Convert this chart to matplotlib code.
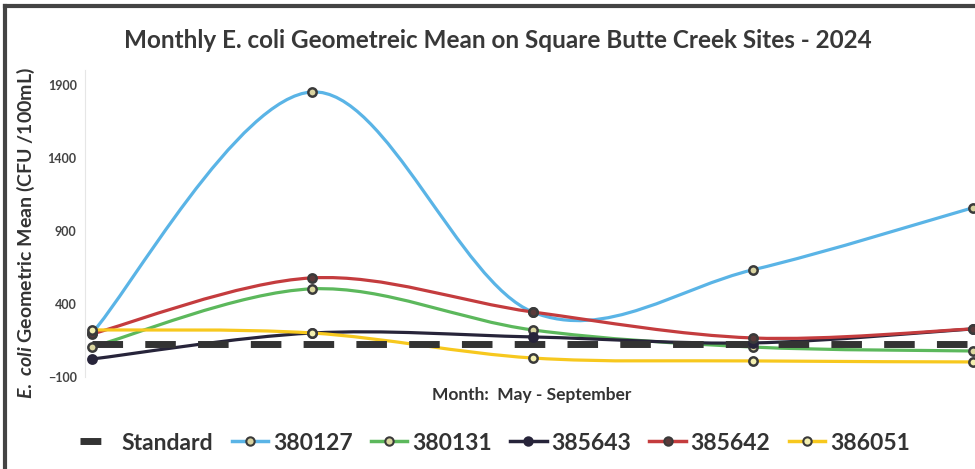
import numpy as np
import matplotlib
matplotlib.use("Agg")
import matplotlib.pyplot as plt
from matplotlib.path import Path
from matplotlib.patches import PathPatch
from matplotlib.lines import Line2D

# data (May - September 2024)
months = ["May", "June", "July", "August", "September"]
standard = [126, 126, 126, 126, 126]
s380127 = [201, 1850, 345, 633, 1058]
s380131 = [105, 503, 222, 105, 78]
s385643 = [23, 201, 174, 133, 229]
s385642 = [195, 578, 345, 167, 229]
s386051 = [222, 201, 30, 10, 3]

series = [
    ("380127", s380127, "#5ab4e6", "#d9d3a0", "#3a3a3a"),
    ("380131", s380131, "#5cb85c", "#dcd8a0", "#3a3a3a"),
    ("385643", s385643, "#27243a", "#27243a", "#27243a"),
    ("385642", s385642, "#c43c3e", "#5a3a3a", "#3a3a3a"),
    ("386051", s386051, "#f7c81e", "#f3efb0", "#3a3a3a"),
]

plt.rcParams["font.family"] = ["Lato", "DejaVu Sans"]
plt.rcParams["mathtext.fontset"] = "custom"
plt.rcParams["mathtext.it"] = "Lato:italic:bold"
plt.rcParams["mathtext.rm"] = "Lato:bold"


def smooth_path(xs, ys):
    # excel-style smoothed line: cubic bezier through every point
    pts = list(zip(xs, ys))
    verts = [pts[0]]
    codes = [Path.MOVETO]
    n = len(pts)
    for i in range(n - 1):
        p0 = pts[max(i - 1, 0)]
        p1 = pts[i]
        p2 = pts[i + 1]
        p3 = pts[min(i + 2, n - 1)]
        c1 = (p1[0] + (p2[0] - p0[0]) / 6, p1[1] + (p2[1] - p0[1]) / 6)
        c2 = (p2[0] - (p3[0] - p1[0]) / 6, p2[1] - (p3[1] - p1[1]) / 6)
        verts += [c1, c2, p2]
        codes += [Path.CURVE4] * 3
    return Path(verts, codes)


fig = plt.figure(figsize=(9.75, 4.69), dpi=100)
ax = fig.add_axes([85 / 975, 1 - 377 / 469, 890 / 975, 307 / 469])
x = np.arange(len(months))

# standard
ax.plot(x, standard, color="#333333", lw=5, dashes=(4.4, 3.2), zorder=3)

handles = [Line2D([], [], color="#333333", lw=5, dashes=(3, 20))]
labels = ["Standard"]
for name, vals, col, mfc, mec in series:
    patch = PathPatch(smooth_path(x, vals), facecolor="none", edgecolor=col,
                      lw=2.3, zorder=2, capstyle="round")
    ax.add_patch(patch)
    ax.plot(x, vals, ls="none", marker="o", ms=6, mfc=mfc, mec=mec, mew=1.8, zorder=4)
    handles.append(Line2D([], [], color=col, lw=2.5, marker="o", ms=6,
                          mfc=mfc, mec=mec, mew=1.5))
    labels.append(name)

ax.set_xlim(-0.032, 4.009)
ax.set_ylim(-100, 2000)
ax.set_yticks([-100, 400, 900, 1400, 1900])
ax.set_xticks([])
ax.tick_params(axis="y", length=0, labelsize=9, labelcolor="#444444", pad=6)
for lab in ax.get_yticklabels():
    lab.set_fontweight("bold")
for side in ["top", "right", "bottom"]:
    ax.spines[side].set_visible(False)
ax.spines["left"].set_color("#e6e6e6")

ax.set_ylabel(r"$E.\ coli$ Geometric Mean (CFU /100mL)", fontsize=14,
              fontweight="bold", color="#333333")
ax.yaxis.set_label_coords(-48 / 890, 0.47)
fig.text(532 / 975, 1 - 395 / 469, "Month:  May - September", ha="center", va="center",
         fontsize=12.5, fontweight="bold", color="#333333")
fig.text(498 / 975, 1 - 40 / 469, "Monthly E. coli Geometreic Mean on Square Butte Creek Sites - 2024",
         ha="center", va="center", fontsize=17.5, fontweight="bold", color="#383838")

fig.legend(handles, labels, loc="center", bbox_to_anchor=(495 / 975, 1 - 443 / 469), ncol=6,
           frameon=False, handlelength=1.6, handletextpad=0.2, columnspacing=0.8,
           prop={"size": 16.5, "weight": "bold"}, labelcolor="#333333")

# scanned border on the left and top
fig.add_artist(Line2D([5 / 975, 5 / 975], [0, 1 - 6 / 469], color="#444444", lw=3))
fig.add_artist(Line2D([5 / 975, 1], [1 - 6 / 469, 1 - 6 / 469], color="#444444", lw=3))

fig.savefig("out.png", dpi=100)
